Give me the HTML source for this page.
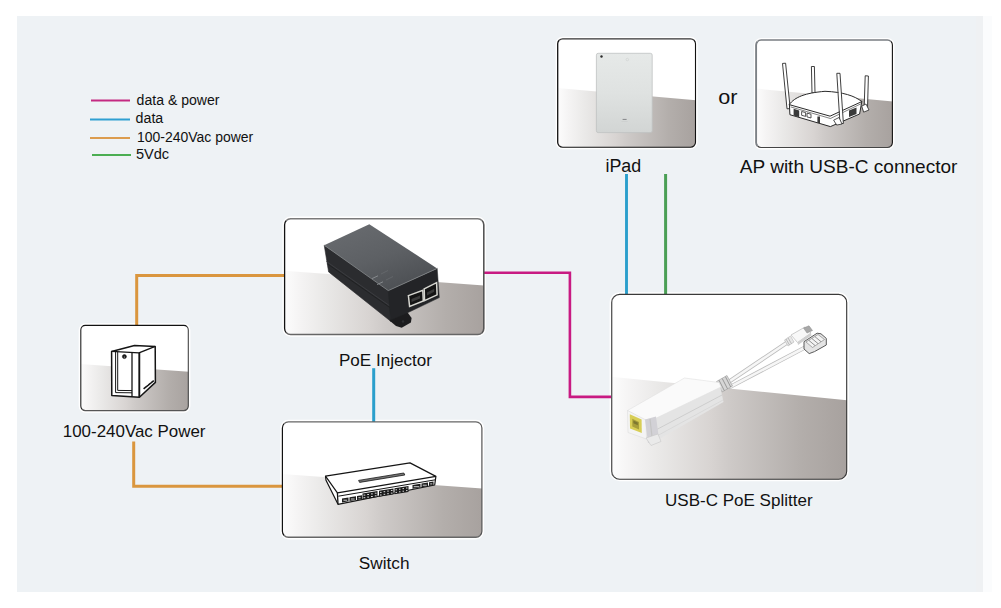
<!DOCTYPE html>
<html><head><meta charset="utf-8">
<style>
html,body{margin:0;padding:0;background:#fff;width:1001px;height:608px;overflow:hidden}
svg{display:block}
text{font-family:"Liberation Sans",sans-serif;fill:#111}
</style></head>
<body>
<svg width="1001" height="608" viewBox="0 0 1001 608">
<defs>
<linearGradient id="fl" x1="0" y1="0" x2="1" y2="0">
<stop offset="0" stop-color="#fdfdfd"/>
<stop offset="0.08" stop-color="#f5f4f4"/>
<stop offset="0.2" stop-color="#eae9e8"/>
<stop offset="0.42" stop-color="#d8d4d2"/>
<stop offset="0.5" stop-color="#cecac8"/>
<stop offset="0.8" stop-color="#b3aeab"/>
<stop offset="1" stop-color="#a7a19e"/>
</linearGradient>
<linearGradient id="flv" x1="0" y1="0" x2="0" y2="1">
<stop offset="0" stop-color="#fff" stop-opacity="0"/>
<stop offset="1" stop-color="#fff" stop-opacity="0"/>
</linearGradient>
<linearGradient id="ipad" x1="0" y1="0" x2="0" y2="1">
<stop offset="0" stop-color="#e6e9e8"/>
<stop offset="0.5" stop-color="#dfe2e1"/>
<stop offset="1" stop-color="#d2d5d4"/>
</linearGradient>
<linearGradient id="poeTop" x1="0.2" y1="0" x2="0.8" y2="1">
<stop offset="0" stop-color="#686b6f"/>
<stop offset="0.5" stop-color="#5d6064"/>
<stop offset="1" stop-color="#4a4d51"/>
</linearGradient>
<clipPath id="cIpad"><rect x="557.7" y="38.8" width="137.8" height="108.4" rx="5"/></clipPath>
<clipPath id="cAp"><rect x="756.1" y="40" width="136.3" height="107.5" rx="5"/></clipPath>
<clipPath id="cPoe"><rect x="284.6" y="218.7" width="199.2" height="115.9" rx="6"/></clipPath>
<clipPath id="cPow"><rect x="80.8" y="325.4" width="107.5" height="85.2" rx="4.5"/></clipPath>
<clipPath id="cSw"><rect x="282.4" y="421.9" width="199.5" height="115.4" rx="6"/></clipPath>
<clipPath id="cSp"><rect x="611.7" y="294.4" width="235" height="184.8" rx="8"/></clipPath>
</defs>

<!-- panel -->
<rect x="17" y="16" width="959" height="576" fill="#eef2f5"/>
<rect x="976" y="16" width="7" height="576" fill="#eff1f3"/>
<rect x="983" y="16" width="9" height="576" fill="#fbfcfd"/>

<!-- legend -->
<line x1="91" y1="100.4" x2="130" y2="100.4" stroke="#c42a82" stroke-width="2"/>
<line x1="90" y1="119.4" x2="130" y2="119.4" stroke="#2f9fd2" stroke-width="2"/>
<line x1="90" y1="137.9" x2="130" y2="137.9" stroke="#dc9c4e" stroke-width="2"/>
<line x1="92" y1="155.1" x2="131" y2="155.1" stroke="#4bae52" stroke-width="2"/>

<!-- halos -->
<rect x="557.7" y="38.8" width="137.8" height="108.4" rx="5" fill="none" stroke="#fff" stroke-width="4.2"/>
<rect x="756.1" y="40" width="136.3" height="107.5" rx="5" fill="none" stroke="#fff" stroke-width="4.2"/>
<rect x="284.6" y="218.7" width="199.2" height="115.9" rx="6" fill="none" stroke="#fff" stroke-width="4.2"/>
<rect x="80.8" y="325.4" width="107.5" height="85.2" rx="4.5" fill="none" stroke="#fff" stroke-width="4.2"/>
<rect x="282.4" y="421.9" width="199.5" height="115.4" rx="6" fill="none" stroke="#fff" stroke-width="4.2"/>
<rect x="611.7" y="294.4" width="235" height="184.8" rx="8" fill="none" stroke="#fff" stroke-width="4.2"/>
<!-- connectors -->
<g fill="none" stroke-linejoin="miter" stroke-linecap="butt">
<polyline points="136.7,325 136.7,275.5 284.5,275.5" stroke="#da963e" stroke-width="3"/>
<polyline points="133.7,441.5 133.7,486.2 282.5,486.2" stroke="#da963e" stroke-width="3"/>
<polyline points="484,272.7 569.9,272.7 569.9,396.9 611.7,396.9" stroke="#c81a82" stroke-width="2.6"/>
<line x1="373.7" y1="368.2" x2="373.7" y2="422" stroke="#2a9fcc" stroke-width="3"/>
<line x1="626.5" y1="174" x2="626.5" y2="294.5" stroke="#2a9fcc" stroke-width="2.9"/>
<line x1="665.6" y1="174" x2="665.6" y2="294.5" stroke="#4a9f55" stroke-width="3"/>
</g>

<!-- ============ BOX: iPad ============ -->
<g clip-path="url(#cIpad)">
<rect x="557" y="38" width="140" height="110" fill="#fff"/>
<polygon points="557,88 697,100.3 697,148 557,148" fill="url(#fl)"/>
<polygon points="557,88 697,100.3 697,148 557,148" fill="url(#flv)"/>
</g>
<path d="M559.16,40.26 A5,5 0 0 1 562.70,38.80 L690.50,38.80 A5,5 0 0 1 694.04,40.26" fill="none" stroke="#333" stroke-width="1.2"/>
<path d="M694.04,40.26 A5,5 0 0 1 695.50,43.80 L695.50,142.20 A5,5 0 0 1 694.04,145.74" fill="none" stroke="#111" stroke-width="1.1"/>
<path d="M694.04,145.74 A5,5 0 0 1 690.50,147.20 L562.70,147.20 A5,5 0 0 1 559.16,145.74" fill="none" stroke="#111" stroke-width="1.1"/>
<path d="M559.16,145.74 A5,5 0 0 1 557.70,142.20 L557.70,43.80 A5,5 0 0 1 559.16,40.26" fill="none" stroke="#111" stroke-width="1.3"/>
<rect x="596.4" y="53.3" width="55.8" height="79.3" rx="1.8" fill="url(#ipad)" stroke="#bfc2c2" stroke-width="0.8"/>
<circle cx="601.5" cy="56.5" r="1.2" fill="#2a2a2a"/>

<!-- ============ BOX: AP ============ -->
<g clip-path="url(#cAp)">
<rect x="755" y="39" width="140" height="110" fill="#fff"/>
<polygon points="755,88.5 894,101.5 894,149 755,149" fill="url(#fl)"/>
<polygon points="755,88.5 894,101.5 894,149 755,149" fill="url(#flv)"/>
</g>
<path d="M757.56,41.46 A5,5 0 0 1 761.10,40.00 L887.40,40.00 A5,5 0 0 1 890.94,41.46" fill="none" stroke="#7a7e82" stroke-width="1.5"/>
<path d="M890.94,41.46 A5,5 0 0 1 892.40,45.00 L892.40,142.50 A5,5 0 0 1 890.94,146.04" fill="none" stroke="#111" stroke-width="1.1"/>
<path d="M890.94,146.04 A5,5 0 0 1 887.40,147.50 L761.10,147.50 A5,5 0 0 1 757.56,146.04" fill="none" stroke="#444" stroke-width="1.2"/>
<path d="M757.56,146.04 A5,5 0 0 1 756.10,142.50 L756.10,45.00 A5,5 0 0 1 757.56,41.46" fill="none" stroke="#7c8186" stroke-width="1.9"/>

<!-- ============ BOX: PoE ============ -->
<g clip-path="url(#cPoe)">
<rect x="283" y="217" width="203" height="120" fill="#fff"/>
<polygon points="283,270.6 486,285.6 486,337 283,337" fill="url(#fl)"/>
<polygon points="283,270.6 486,285.6 486,337 283,337" fill="url(#flv)"/>
</g>
<path d="M286.36,220.46 A6,6 0 0 1 290.60,218.70 L477.80,218.70 A6,6 0 0 1 482.04,220.46" fill="none" stroke="#7a7a7a" stroke-width="1.6"/>
<path d="M482.04,220.46 A6,6 0 0 1 483.80,224.70 L483.80,328.60 A6,6 0 0 1 482.04,332.84" fill="none" stroke="#555" stroke-width="1.6"/>
<path d="M482.04,332.84 A6,6 0 0 1 477.80,334.60 L290.60,334.60 A6,6 0 0 1 286.36,332.84" fill="none" stroke="#666" stroke-width="1.5"/>
<path d="M286.36,332.84 A6,6 0 0 1 284.60,328.60 L284.60,224.70 A6,6 0 0 1 286.36,220.46" fill="none" stroke="#111" stroke-width="1.3"/>

<!-- ============ BOX: Power ============ -->
<g clip-path="url(#cPow)">
<rect x="79" y="324" width="112" height="90" fill="#fff"/>
<polygon points="79,364 191,372 191,412 79,412" fill="url(#fl)"/>
<polygon points="79,364 191,372 191,412 79,412" fill="url(#flv)"/>
</g>
<path d="M82.12,326.72 A4.5,4.5 0 0 1 85.30,325.40 L183.80,325.40 A4.5,4.5 0 0 1 186.98,326.72" fill="none" stroke="#111" stroke-width="1.1"/>
<path d="M186.98,326.72 A4.5,4.5 0 0 1 188.30,329.90 L188.30,406.10 A4.5,4.5 0 0 1 186.98,409.28" fill="none" stroke="#444" stroke-width="1.1"/>
<path d="M186.98,409.28 A4.5,4.5 0 0 1 183.80,410.60 L85.30,410.60 A4.5,4.5 0 0 1 82.12,409.28" fill="none" stroke="#555" stroke-width="1.3"/>
<path d="M82.12,409.28 A4.5,4.5 0 0 1 80.80,406.10 L80.80,329.90 A4.5,4.5 0 0 1 82.12,326.72" fill="none" stroke="#222" stroke-width="1.1"/>

<!-- ============ BOX: Switch ============ -->
<g clip-path="url(#cSw)">
<rect x="281" y="420" width="203" height="120" fill="#fff"/>
<polygon points="281,474 484,488.7 484,540 281,540" fill="url(#fl)"/>
<polygon points="281,474 484,488.7 484,540 281,540" fill="url(#flv)"/>
</g>
<path d="M284.16,423.66 A6,6 0 0 1 288.40,421.90 L475.90,421.90 A6,6 0 0 1 480.14,423.66" fill="none" stroke="#666" stroke-width="1.3"/>
<path d="M480.14,423.66 A6,6 0 0 1 481.90,427.90 L481.90,531.30 A6,6 0 0 1 480.14,535.54" fill="none" stroke="#555" stroke-width="1.2"/>
<path d="M480.14,535.54 A6,6 0 0 1 475.90,537.30 L288.40,537.30 A6,6 0 0 1 284.16,535.54" fill="none" stroke="#666" stroke-width="1.4"/>
<path d="M284.16,535.54 A6,6 0 0 1 282.40,531.30 L282.40,427.90 A6,6 0 0 1 284.16,423.66" fill="none" stroke="#111" stroke-width="1.2"/>

<!-- ============ BOX: Splitter ============ -->
<g clip-path="url(#cSp)">
<rect x="610" y="293" width="238" height="188" fill="#fff"/>
<polygon points="610,376.7 848,400.4 848,481 610,481" fill="url(#fl)"/>
<polygon points="610,376.7 848,400.4 848,481 610,481" fill="url(#flv)"/>
</g>
<path d="M614.04,296.74 A8,8 0 0 1 619.70,294.40 L838.70,294.40 A8,8 0 0 1 844.36,296.74" fill="none" stroke="#3a3a3a" stroke-width="1.1"/>
<path d="M844.36,296.74 A8,8 0 0 1 846.70,302.40 L846.70,471.20 A8,8 0 0 1 844.36,476.86" fill="none" stroke="#333" stroke-width="1.1"/>
<path d="M844.36,476.86 A8,8 0 0 1 838.70,479.20 L619.70,479.20 A8,8 0 0 1 614.04,476.86" fill="none" stroke="#333" stroke-width="1.1"/>
<path d="M614.04,476.86 A8,8 0 0 1 611.70,471.20 L611.70,302.40 A8,8 0 0 1 614.04,296.74" fill="none" stroke="#555" stroke-width="1.3"/>


<!-- ===== iPad device details ===== -->
<g id="ipadDetails">
<circle cx="627.3" cy="59.6" r="1.3" fill="none" stroke="#cdd0cf" stroke-width="0.6"/>
<rect x="622.6" y="118.9" width="4" height="1.1" fill="#8c8e90"/><rect x="621.5" y="121" width="6.2" height="0.6" fill="#c9cbcc"/>
</g>

<!-- ===== PoE injector ===== -->
<g id="poe">
<!-- side face -->
<polygon points="324.2,245.2 390,290 391,321.5 328.6,271.9" fill="#2b2c2f" stroke="#2b2c2f" stroke-width="0.6"/>
<polyline points="326.5,261.5 390,306" fill="none" stroke="#3b3c40" stroke-width="1"/>
<polyline points="327,263.6 390.5,308" fill="none" stroke="#1d1e20" stroke-width="0.8"/>
<!-- tab -->
<polygon points="389.5,320.5 396,326 401.7,327.8 410.9,322.6 411.6,318 407.6,312.6 400,309" fill="#1c1c1e"/>
<circle cx="403" cy="321.5" r="1.2" fill="#2e3033"/>
<!-- front face -->
<polygon points="388.3,290.6 437.2,268.4 439.3,297.6 407.6,312.8 390.5,320" fill="#232427" stroke="#232427" stroke-width="0.5"/>
<!-- top face -->
<polygon points="324.2,245.2 369.3,224.2 437.2,268.4 388.3,290.6" fill="url(#poeTop)"/>
<polyline points="324.2,245.2 388.3,290.6 437.2,268.4" fill="none" stroke="#7f8285" stroke-width="0.9"/>
<!-- LEDs -->
<line x1="372" y1="278.6" x2="378" y2="275.8" stroke="#8b8e92" stroke-width="0.9"/>
<line x1="377" y1="284.6" x2="383" y2="281.8" stroke="#8b8e92" stroke-width="0.9"/>
<line x1="381" y1="274" x2="388" y2="270.5" stroke="#6d7074" stroke-width="0.6"/>
<line x1="386" y1="280" x2="393" y2="276.5" stroke="#6d7074" stroke-width="0.6"/>
<!-- RJ45 ports -->
<polygon points="408.4,295.6 422.8,290.2 423.3,301 409.6,306.4" fill="#141414" stroke="#d6d6d0" stroke-width="1.5"/>
<polygon points="424.2,288.8 436.6,282.6 437.1,294.9 424.5,300.6" fill="#141414" stroke="#d6d6d0" stroke-width="1.5"/>
<polygon points="411.5,299 420,295.6 420,298.6 411.5,302" fill="#3a3a3a"/>
<polygon points="427,292.4 434.2,288.8 434.2,291.8 427,295.4" fill="#3a3a3a"/>
</g>

<!-- ===== UPS (line drawing) ===== -->
<g id="ups" stroke="#151515" stroke-linejoin="round" fill="#fff">
<polygon points="111.6,351.4 134.5,345.4 155.2,346.4 155.4,382.4 139.4,397.2 111.8,395.4" stroke-width="1.5"/>
<polyline points="111.6,351.4 139,352.9 155.2,346.4" fill="none" stroke-width="1.4"/>
<line x1="139.3" y1="352.9" x2="139.3" y2="397.2" stroke-width="1.9"/>
<line x1="132" y1="352.5" x2="132" y2="396.6" stroke-width="1.3"/>
<polyline points="115.6,351.6 115.6,392.6 132,392.8" fill="none" stroke-width="1"/>
<polyline points="117.7,351.7 117.7,390.4 132,390.6" fill="none" stroke-width="1"/>
<polyline points="143.6,388.8 153.8,380.6" fill="none" stroke-width="1.6"/>
<g stroke="none" fill="#fff"><rect x="146" y="384.6" width="1.6" height="1" transform="rotate(-39 146 384.6)"/><rect x="149.2" y="382" width="1.6" height="1" transform="rotate(-39 149.2 382)"/></g>
<circle cx="124.4" cy="356.6" r="2" fill="#1a1a1a" stroke-width="0.6"/>
<circle cx="124.4" cy="357" r="0.6" fill="#bbb" stroke="none"/>
</g>

<!-- ===== Switch (line drawing) ===== -->
<g id="sw" stroke="#151515" stroke-linejoin="round">
<polygon points="325.5,476.2 410,462.9 435.9,476.4 434.7,485 338,504.3 326,480.2" fill="#fff" stroke-width="1.2"/>
<polyline points="325.5,476.2 337.4,492.8 435.9,476.4" fill="none" stroke-width="1.2"/>
<line x1="337.4" y1="492.8" x2="338" y2="504.3" stroke-width="1.3"/>
<line x1="338.3" y1="496.2" x2="435.3" y2="479.8" stroke-width="1"/>
<polygon points="358.6,480.4 403.8,473 404.8,475 359.6,482.4" fill="#777" stroke-width="0.8"/>
<g stroke="none">
<polygon points="362.5,493.6 377.5,491.1 377.5,497.1 362.5,499.6" fill="#1a1a1a"/>
<rect x="363.5" y="494.6" width="1.8" height="1.0" fill="#d8d8d8"/>
<rect x="363.5" y="497.2" width="1.8" height="1.0" fill="#d8d8d8"/>
<rect x="367.2" y="494.0" width="1.8" height="1.0" fill="#d8d8d8"/>
<rect x="367.2" y="496.6" width="1.8" height="1.0" fill="#d8d8d8"/>
<rect x="371.0" y="493.4" width="1.8" height="1.0" fill="#d8d8d8"/>
<rect x="371.0" y="496.0" width="1.8" height="1.0" fill="#d8d8d8"/>
<rect x="374.8" y="492.7" width="1.8" height="1.0" fill="#d8d8d8"/>
<rect x="374.8" y="495.3" width="1.8" height="1.0" fill="#d8d8d8"/>
<polygon points="379,490.8 393.5,488.4 393.5,494.4 379,496.8" fill="#1a1a1a"/>
<rect x="380.0" y="491.9" width="1.6" height="1.0" fill="#d8d8d8"/>
<rect x="380.0" y="494.5" width="1.6" height="1.0" fill="#d8d8d8"/>
<rect x="383.6" y="491.2" width="1.6" height="1.0" fill="#d8d8d8"/>
<rect x="383.6" y="493.8" width="1.6" height="1.0" fill="#d8d8d8"/>
<rect x="387.2" y="490.6" width="1.6" height="1.0" fill="#d8d8d8"/>
<rect x="387.2" y="493.2" width="1.6" height="1.0" fill="#d8d8d8"/>
<rect x="390.9" y="490.0" width="1.6" height="1.0" fill="#d8d8d8"/>
<rect x="390.9" y="492.6" width="1.6" height="1.0" fill="#d8d8d8"/>
<polygon points="394.5,488.2 408.5,485.9 408.5,491.9 394.5,494.2" fill="#1a1a1a"/>
<rect x="395.5" y="489.3" width="1.5" height="1.0" fill="#d8d8d8"/>
<rect x="395.5" y="491.9" width="1.5" height="1.0" fill="#d8d8d8"/>
<rect x="399.0" y="488.7" width="1.5" height="1.0" fill="#d8d8d8"/>
<rect x="399.0" y="491.3" width="1.5" height="1.0" fill="#d8d8d8"/>
<rect x="402.5" y="488.1" width="1.5" height="1.0" fill="#d8d8d8"/>
<rect x="402.5" y="490.7" width="1.5" height="1.0" fill="#d8d8d8"/>
<rect x="406.0" y="487.5" width="1.5" height="1.0" fill="#d8d8d8"/>
<rect x="406.0" y="490.1" width="1.5" height="1.0" fill="#d8d8d8"/>
<polygon points="342,498.6 348.5,497.5 348.5,501.3 342,502.4" fill="#1e1e1e"/>
<rect x="343.4" y="499.7" width="3.7" height="1.0" fill="#d0d0d0"/>
<polygon points="349.5,497.3 356,496.3 356,500.1 349.5,501.1" fill="#1e1e1e"/>
<rect x="350.9" y="498.5" width="3.7" height="1.0" fill="#d0d0d0"/>
<polygon points="357,496.1 362,495.3 362,499.1 357,499.9" fill="#1e1e1e"/>
<rect x="358.4" y="497.2" width="2.2" height="1.0" fill="#d0d0d0"/>
<polygon points="412.5,485.0 420.5,483.7 420.5,487.5 412.5,488.8" fill="#1e1e1e"/>
<rect x="413.7" y="486.2" width="5.6" height="1.0" fill="#d0d0d0"/>
<polygon points="421.5,483.5 428,482.4 428,486.2 421.5,487.3" fill="#1e1e1e"/>
<rect x="422.7" y="484.7" width="4.1" height="1.0" fill="#d0d0d0"/>
<polygon points="429,482.3 433.5,481.5 433.5,485.3 429,486.1" fill="#1e1e1e"/>
<rect x="430.2" y="483.4" width="2.1" height="1.0" fill="#d0d0d0"/>
</g>
</g>

<!-- ===== Splitter ===== -->
<g id="split">
<!-- cables -->
<line x1="727" y1="383" x2="788" y2="342" stroke="#bdbdbd" stroke-width="4.2" stroke-linecap="round"/>
<line x1="727" y1="383" x2="788" y2="342" stroke="#f6f6f6" stroke-width="2.6" stroke-linecap="round"/>
<line x1="730" y1="387" x2="806" y2="347" stroke="#bdbdbd" stroke-width="4.2" stroke-linecap="round"/>
<line x1="730" y1="387" x2="806" y2="347" stroke="#f6f6f6" stroke-width="2.6" stroke-linecap="round"/>
<!-- USB-C plug -->
<polygon points="784.5,340 790.5,336 794,342 788,346" fill="#e8e8e8" stroke="#b5b5b5" stroke-width="0.6"/>
<g stroke="#9a9a9a" stroke-width="0.6"><line x1="786" y1="339" x2="789.5" y2="345"/><line x1="788" y1="337.8" x2="791.5" y2="343.8"/></g>
<polygon points="791,335 805,327 811,333 797.5,342.5" fill="#f8f8f8" stroke="#b8b8b8" stroke-width="0.7"/>
<polygon points="797.5,342.5 811,333 811.5,335.5 798,345" fill="#cfcfcf"/>
<polygon points="803.5,328 809,325.8 812.5,330.5 807,333" fill="#a8a8a8" stroke="#8a8a8a" stroke-width="0.5"/>
<!-- RJ45 plug -->
<polygon points="804,341.7 817.1,333.2 821,333.8 826.3,338.4 826.3,345 814.5,351.6 809.2,353.6 804,349" fill="#e4e4e4" stroke="#5a5a5a" stroke-width="1"/>
<polygon points="806,342 818,334.5 824.5,339.5 812.5,347.5" fill="#f3f3f3" stroke="#7a7a7a" stroke-width="0.6"/>
<g stroke="#6a6a6a" stroke-width="0.7">
<line x1="809" y1="340.5" x2="815" y2="345.5"/><line x1="812" y1="338.6" x2="818" y2="343.6"/><line x1="815" y1="336.7" x2="821" y2="341.7"/>
</g>
<!-- strain relief -->
<polygon points="716.5,381.5 727,375.5 732.5,386 722,392" fill="#d6d6d6" stroke="#9c9c9c" stroke-width="0.6"/>
<g stroke="#7e7e7e" stroke-width="0.7">
<line x1="719" y1="380.2" x2="724.3" y2="390.6"/><line x1="722.2" y1="378.4" x2="727.5" y2="388.8"/><line x1="725.4" y1="376.6" x2="730.7" y2="387"/>
</g>
<!-- body side face -->
<polygon points="648,422 720,385.5 723.5,402 657.5,440" fill="#e4e4e4"/>
<line x1="652" y1="432" x2="722" y2="395" stroke="#cbcbcb" stroke-width="0.9"/>
<line x1="655" y1="437" x2="723" y2="400" stroke="#d4d4d4" stroke-width="0.7"/>
<!-- body top face -->
<polygon points="627.5,410.5 684.5,378 719,382.5 721,387 648,422" fill="#fafafa" stroke="#e0e0e0" stroke-width="0.6"/>
<!-- front face -->
<polygon points="627.5,410.5 646,420 646.5,439 628,432.5" fill="#f4f4f4" stroke="#d8d8d8" stroke-width="0.5"/>
<!-- endcap bumper -->
<polygon points="645,419.5 656,416.5 659,439 648,443" fill="#d2d1d6"/>
<line x1="650" y1="419" x2="652.5" y2="441" stroke="#c4c4c4" stroke-width="1.2"/>
<polygon points="646,438 658,434 661,441.5 651,445.5" fill="#eaeaea" stroke="#c8c8c8" stroke-width="0.6"/>
<!-- yellow port -->
<polygon points="629.8,414.2 641.6,419.6 641.8,433 630,428.6" fill="#d8ce56"/>
<polygon points="632.3,418.8 639,422 639,429.6 632.3,426.6" fill="#a79e3a"/>
<polygon points="633.4,420.6 637.8,422.6 637.8,425.2 633.4,423.2" fill="#7e7830"/>
</g>

<!-- ===== AP (line drawing) ===== -->
<g id="ap" stroke="#2a2a2a" stroke-linejoin="round" stroke-linecap="round">
<!-- antenna 1 and 2 (behind) -->
<polygon points="782.9,63.4 785.6,63.2 790.2,108.6 787.4,108.8" fill="#fff" stroke-width="0.9"/>
<polygon points="811.8,66.5 814.4,66.5 815,93 812.4,93" fill="#fff" stroke-width="0.9"/>
<polygon points="865.6,75.8 868.4,76 867.5,109 864.5,109" fill="#fff" stroke-width="0.9"/>
<!-- body sides -->
<path d="M789.4,104.3 L789.9,114.7 L830.4,126.6 L859.6,114 L861.8,101.6 Z" fill="#fff" stroke-width="1"/>
<!-- top dome -->
<path d="M789.4,104.3 C795,97 805,93 825,91.3 C843,92 855,96 861.8,101.6 L830.4,116 Z" fill="#fff" stroke-width="1"/>
<path d="M791,107 L830.4,118.5 L860.5,104" fill="none" stroke-width="0.6"/>
<!-- vents -->
<polygon points="793.6,108.8 799.2,110.4 799.2,117.2 793.6,115.6" fill="#3a3a3a" stroke="none"/>
<rect x="817.4" y="116.5" width="2.6" height="6.5" fill="#3a3a3a" stroke="none"/>
<polygon points="849,110.5 856.5,107.5 856.5,114 849,117" fill="#3a3a3a" stroke="none"/>
<polygon points="802,111.6 805.6,112.6 805.6,116.4 802,115.4" fill="none" stroke-width="0.8"/>
<polygon points="807.4,113.2 811,114.2 811,118 807.4,117" fill="none" stroke-width="0.8"/>
<!-- antenna 3 (front) -->
<polygon points="837.2,73.3 840,73.3 843.4,123.5 840.4,123.6" fill="#fff" stroke-width="0.9"/>
<path d="M834,120 L839,117.5 L842,124 L837,125 Z" fill="#fff" stroke-width="0.8"/>
<path d="M862,106 L866,104 L869,110 L864,112 Z" fill="#fff" stroke-width="0.8"/>
</g>

<!-- labels -->
<text x="136.6" y="104.6" font-size="14" textLength="82.91" lengthAdjust="spacingAndGlyphs">data &amp; power</text>
<text x="135.58" y="122.8" font-size="14" textLength="27.67" lengthAdjust="spacingAndGlyphs">data</text>
<text x="137.0" y="141.8" font-size="14" textLength="116.18" lengthAdjust="spacingAndGlyphs">100-240Vac power</text>
<text x="135.96" y="158.8" font-size="14" textLength="33.2" lengthAdjust="spacingAndGlyphs">5Vdc</text>
<text x="718.32" y="103.9" font-size="20" textLength="19.24" lengthAdjust="spacingAndGlyphs">or</text>
<text x="605.51" y="171.7" font-size="18" textLength="35.71" lengthAdjust="spacingAndGlyphs">iPad</text>
<text x="739.8" y="172.7" font-size="19" textLength="217.59" lengthAdjust="spacingAndGlyphs">AP with USB-C connector</text>
<text x="338.97" y="365.8" font-size="16.6" textLength="92.93" lengthAdjust="spacingAndGlyphs">PoE Injector</text>
<text x="62.79" y="437" font-size="16.8" textLength="142.71" lengthAdjust="spacingAndGlyphs">100-240Vac Power</text>
<text x="358.77" y="568.5" font-size="16.8" textLength="50.7" lengthAdjust="spacingAndGlyphs">Switch</text>
<text x="665.07" y="505.9" font-size="16.6" textLength="147.48" lengthAdjust="spacingAndGlyphs">USB-C PoE Splitter</text>
</svg>
</body></html>
